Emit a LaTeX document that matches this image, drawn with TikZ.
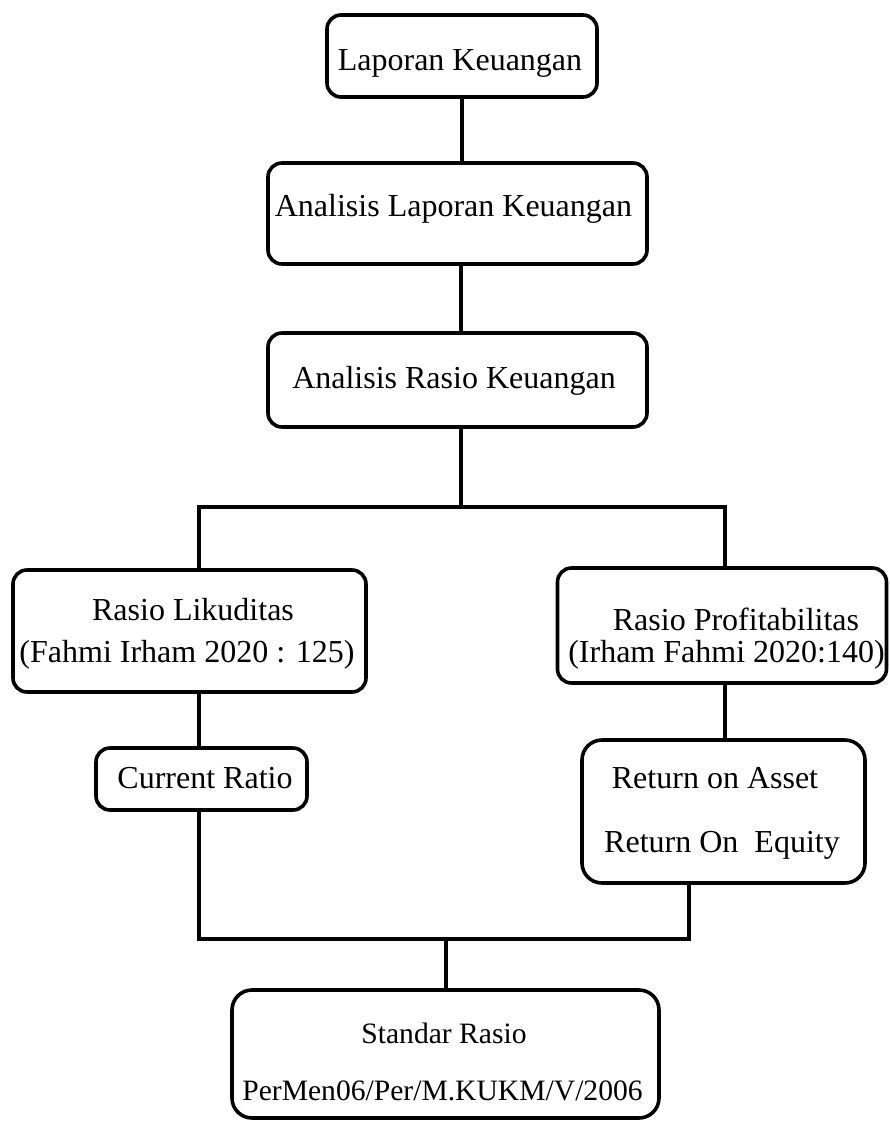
\documentclass[tikz,border=0pt]{standalone}
\usepackage{fontspec}
\setmainfont{Liberation Serif}
\begin{document}
\begin{tikzpicture}[x=1pt,y=-1pt,
  box/.style={draw=black,line width=3.6pt,rounded corners=14pt,inner sep=0pt,fill=white},
  bigbox/.style={box,rounded corners=20pt},
  txt/.style={anchor=base,inner sep=0pt,font=\fontsize{32}{38}\selectfont},
  smalltxt/.style={txt,font=\fontsize{29.6}{35}\selectfont},
  link/.style={draw=black,line width=3.6pt,line join=miter}]
\useasboundingbox (0,0) rectangle (890,1122);
% boxes
\node[box,minimum width=270pt,minimum height=82pt] (b1) at (462,56) {};
\node[box,minimum width=379pt,minimum height=101pt] (b2) at (457.5,213.5) {};
\node[box,minimum width=379pt,minimum height=94pt] (b3) at (457.5,380) {};
\node[box,minimum width=353pt,minimum height=122pt] (b4) at (189.5,631) {};
\node[box,minimum width=329pt,minimum height=115pt] (b5) at (722,625.5) {};
\node[box,minimum width=211pt,minimum height=62pt] (b6) at (201.5,779) {};
\node[bigbox,minimum width=283pt,minimum height=143pt] (b7) at (723.5,811.5) {};
\node[bigbox,minimum width=427pt,minimum height=128pt] (b8) at (445.5,1054) {};
% texts
\node[txt] (t1) at (460,70) {Laporan Keuangan};
\node[txt] (t2) at (453.5,216) {Analisis Laporan Keuangan};
\node[txt] (t3) at (454,388) {Analisis Rasio Keuangan};
\node[txt] (t4a) at (193,620) {Rasio Likuditas};
\node[txt] (t4b) at (187,662) {(Fahmi Irham 2020 : 125)};
\node[txt] (t5a) at (736,630) {Rasio Profitabilitas};
\node[txt] (t5b) at (726.5,662) {(Irham Fahmi 2020:140)};
\node[txt] (t6) at (205,788) {Current Ratio};
\node[txt] (t7a) at (715,788) {Return on Asset};
\node[txt] (t7b) at (722,852) {Return On\ \ Equity};
\node[smalltxt] (t8a) at (444,1043) {Standar Rasio};
\node[smalltxt] (t8b) at (442.5,1100) {PerMen06/Per/M.KUKM/V/2006};
% junction coordinates
\coordinate (h1) at (461,507);
\coordinate (h1L) at (199,507);
\coordinate (h1R) at (725,507);
\coordinate (h2L) at (199,939);
\coordinate (h2M) at (446,939);
\coordinate (h2R) at (689,939);
% connectors
\draw[link] (b1.south) -- (b1.south |- b2.north);
\draw[link] (h1 |- b2.south) -- (h1 |- b3.north);
\draw[link] (h1 |- b3.south) -- (h1);
\draw[link] (h1L |- b4.north) -- (h1L) -- (h1R) -- (h1R |- b5.north);
\draw[link] (h1L |- b4.south) -- (h1L |- b6.north);
\draw[link] (h1R |- b5.south) -- (h1R |- b7.north);
\draw[link] (h2L |- b6.south) -- (h2L) -- (h2R) -- (h2R |- b7.south);
\draw[link] (h2M) -- (h2M |- b8.north);
\end{tikzpicture}
\end{document}
